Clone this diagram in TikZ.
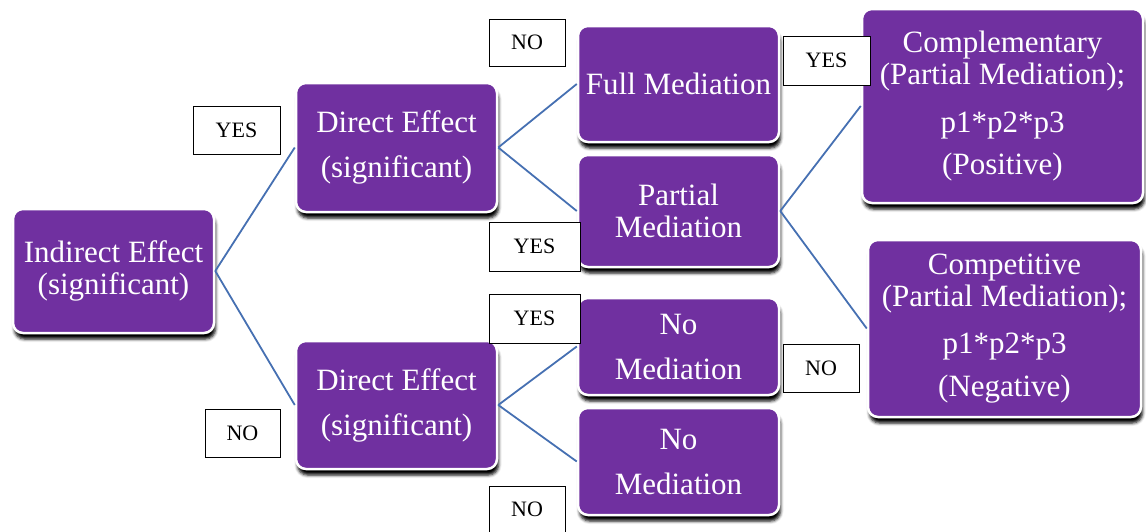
\documentclass[tikz,border=0pt]{standalone}
\usepackage{fontspec}
\setmainfont{Liberation Serif}
\usetikzlibrary{shadows.blur}
\definecolor{boxpurple}{HTML}{7030A0}
\definecolor{linkblue}{HTML}{4670B2}
\tikzset{
  card/.style={rectangle, rounded corners=10pt, fill=boxpurple, draw=white,
    line width=2.5pt, text=white, align=center, inner sep=0pt,
    font=\fontsize{31}{32}\selectfont,
    blur shadow={shadow xshift=1.5pt, shadow yshift=-6pt,
      shadow blur radius=3pt, shadow opacity=100}},
  tag/.style={rectangle, draw=black, line width=1pt, fill=white, text=black,
    inner sep=0pt, font=\fontsize{22}{24}\selectfont},
  link/.style={draw=linkblue, line width=1.8pt}
}
\begin{document}
\begin{tikzpicture}[x=1pt,y=-1pt]
\useasboundingbox (0,0) rectangle (1146,531);

% decision boxes
\node[card, minimum width=201pt, minimum height=124pt] (ind) at (113.5,271)
  {Indirect Effect\\(significant)};
\node[card, minimum width=201pt, minimum height=129pt] (dtop) at (396.5,147.5)
  {Direct Effect\\[13pt](significant)};
\node[card, minimum width=201pt, minimum height=128pt] (dbot) at (396.5,405)
  {Direct Effect\\[13pt](significant)};
\node[card, minimum width=201pt, minimum height=116pt] (full) at (678.5,84)
  {Full Mediation};
\node[card, minimum width=201pt, minimum height=112pt] (part) at (678.5,211)
  {Partial\\Mediation};
\node[card, minimum width=201pt, minimum height=97pt] (nomA) at (678.5,346.5)
  {No\\[13pt]Mediation};
\node[card, minimum width=201pt, minimum height=107pt] (nomB) at (678.5,461.5)
  {No\\[13pt]Mediation};
\node[card, minimum width=281pt, minimum height=194pt] (comp) at (1002.5,106)
  {Complementary\\(Partial Mediation);\\[16pt]p1*p2*p3\\[10pt](Positive)};
\node[card, minimum width=273pt, minimum height=177pt] (compet) at (1004.5,328.5)
  {Competitive\\(Partial Mediation);\\[15pt]p1*p2*p3\\[11pt](Negative)};

% branches
\draw[link] (ind.east) -- (dtop.west);
\draw[link] (ind.east) -- (dbot.west);
\draw[link] (dtop.east) -- (full.west);
\draw[link] (dtop.east) -- (part.west);
\draw[link] (dbot.east) -- (nomA.west);
\draw[link] (dbot.east) -- (nomB.west);
\draw[link] (part.east) -- (comp.west);
\draw[link] (part.east) -- (compet.west);

% answer tags
\node[tag, minimum width=87pt, minimum height=48pt] (yesL) at (236.5,130) {YES};
\node[tag, minimum width=75pt, minimum height=48pt] (noL) at (242.5,433) {NO};
\node[tag, minimum width=76pt, minimum height=47pt] (noTop) at (527,42.5) {NO};
\node[tag, minimum width=91pt, minimum height=49pt] (yesPart) at (534.5,246.5) {YES};
\node[tag, minimum width=91pt, minimum height=49pt] (yesNom) at (534.5,318.5) {YES};
\node[tag, minimum width=76pt, minimum height=47pt] (noBot) at (527,509.5) {NO};
\node[tag, minimum width=87pt, minimum height=49pt] (yesR) at (826.5,60.5) {YES};
\node[tag, minimum width=76pt, minimum height=48pt] (noR) at (821,368) {NO};
\end{tikzpicture}
\end{document}
